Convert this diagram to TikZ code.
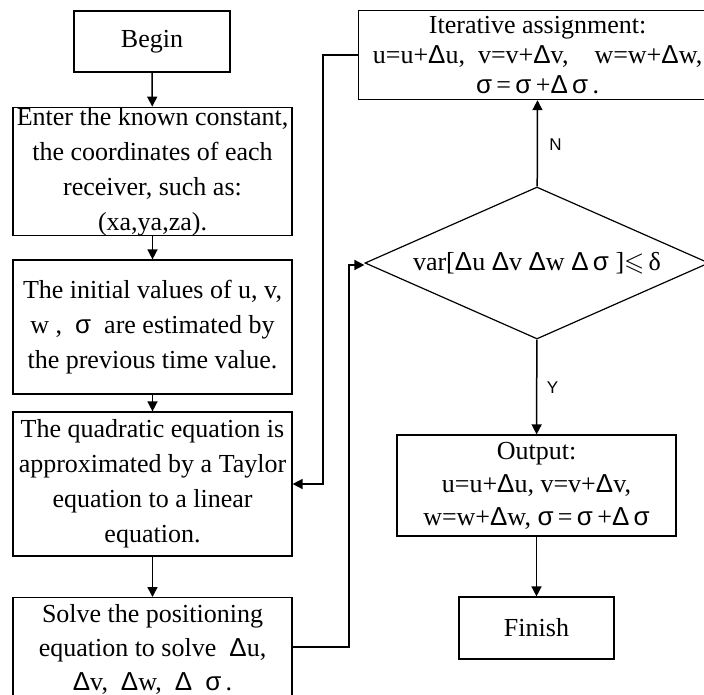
\documentclass[tikz,border=0pt]{standalone}
\usepackage{amssymb}
\usepackage{fontspec}
\setmainfont{Liberation Serif}
\newfontfamily\sansf{Liberation Sans}
\usetikzlibrary{shapes.geometric,arrows.meta}
\newcommand{\sg}{{\sansf σ}}
\newcommand{\Dl}{{\sansf Δ}}
\begin{document}
\begin{tikzpicture}[x=1pt,y=-1pt,
  box/.style={draw,line width=1.2pt,align=center,inner sep=0pt,font=\fontsize{26}{35}\selectfont},
  dec/.style={draw,line width=1.2pt,diamond,aspect=2.26,inner sep=0pt,align=center,font=\fontsize{26}{35}\selectfont},
  arr/.style={line width=1.5pt,-{Triangle[length=10pt,width=10pt]}},
  lbl/.style={font=\sansf\fontsize{17}{20}\selectfont}]
\useasboundingbox (0,0) rectangle (704,695);
\node[box,minimum width=156,minimum height=61] (begin) at (152,41.5) {Begin};
\node[box,minimum width=279,minimum height=125] (enter) at (152.5,171.5) {Enter the known constant,\\the coordinates of each\\receiver, such as:\\(xa,ya,za).};
\node[box,minimum width=279,minimum height=134] (init) at (152.5,327) {The initial values of u, v,\\w , \ \sg\ \ are estimated by\\the previous time value.};
\node[box,minimum width=279,minimum height=144] (quad) at (152.5,484) {The quadratic equation is\\approximated by a Taylor\\equation to a linear\\equation.};
\node[box,minimum width=279,minimum height=104,anchor=north,font=\fontsize{26}{34}\selectfont] (solve) at (152.5,597) {Solve the positioning\\equation to solve \ \Dl u,\\\Dl v, \ \Dl w, \ \Dl\ \ \sg\,.};
\node[box,minimum width=358,minimum height=89,anchor=north west,font=\fontsize{26}{30}\selectfont] (iter) at (358,10) {Iterative assignment:\\u=u+\Dl u, \ v=v+\Dl v, \ \ \ w=w+\Dl w,\\\sg\,=\,\sg\,+\Dl\,\sg\,.};
\node[dec,minimum width=344,minimum height=152] (cond) at (537,263) {var[\Dl u \Dl v \Dl w \Dl\,\sg\ ]$\leqslant$\,δ};
\node[box,minimum width=279,minimum height=101,font=\fontsize{26}{33}\selectfont] (out) at (536.5,485.5) {Output:\\u=u+\Dl u, v=v+\Dl v,\\w=w+\Dl w, \sg\,=\,\sg\,+\Dl\,\sg};
\node[box,minimum width=155,minimum height=62] (fin) at (536.5,628) {Finish};
\draw[arr] (begin) -- (enter);
\draw[arr] (enter) -- (init);
\draw[arr] (init) -- (quad);
\draw[arr] (quad) -- (solve);
\draw[arr] (cond) -- node[lbl,right=8pt,pos=0.48] (nl) {N} (iter);
\draw[arr] (cond) -- node[lbl,right=6pt,pos=0.51] (yl) {Y} (out);
\draw[arr] (out) -- (fin);
\coordinate (c1) at (349,647);
\coordinate (c2) at (349,265);
\draw[arr] (solve.east |- c1) -- (c1) -- (c2) -- (cond.west |- c2);
\coordinate (c3) at (323,55);
\coordinate (c4) at (323,484);
\draw[arr] (iter.west |- c3) -- (c3) -- (c4) -- (quad.east |- c4);
\end{tikzpicture}
\end{document}
